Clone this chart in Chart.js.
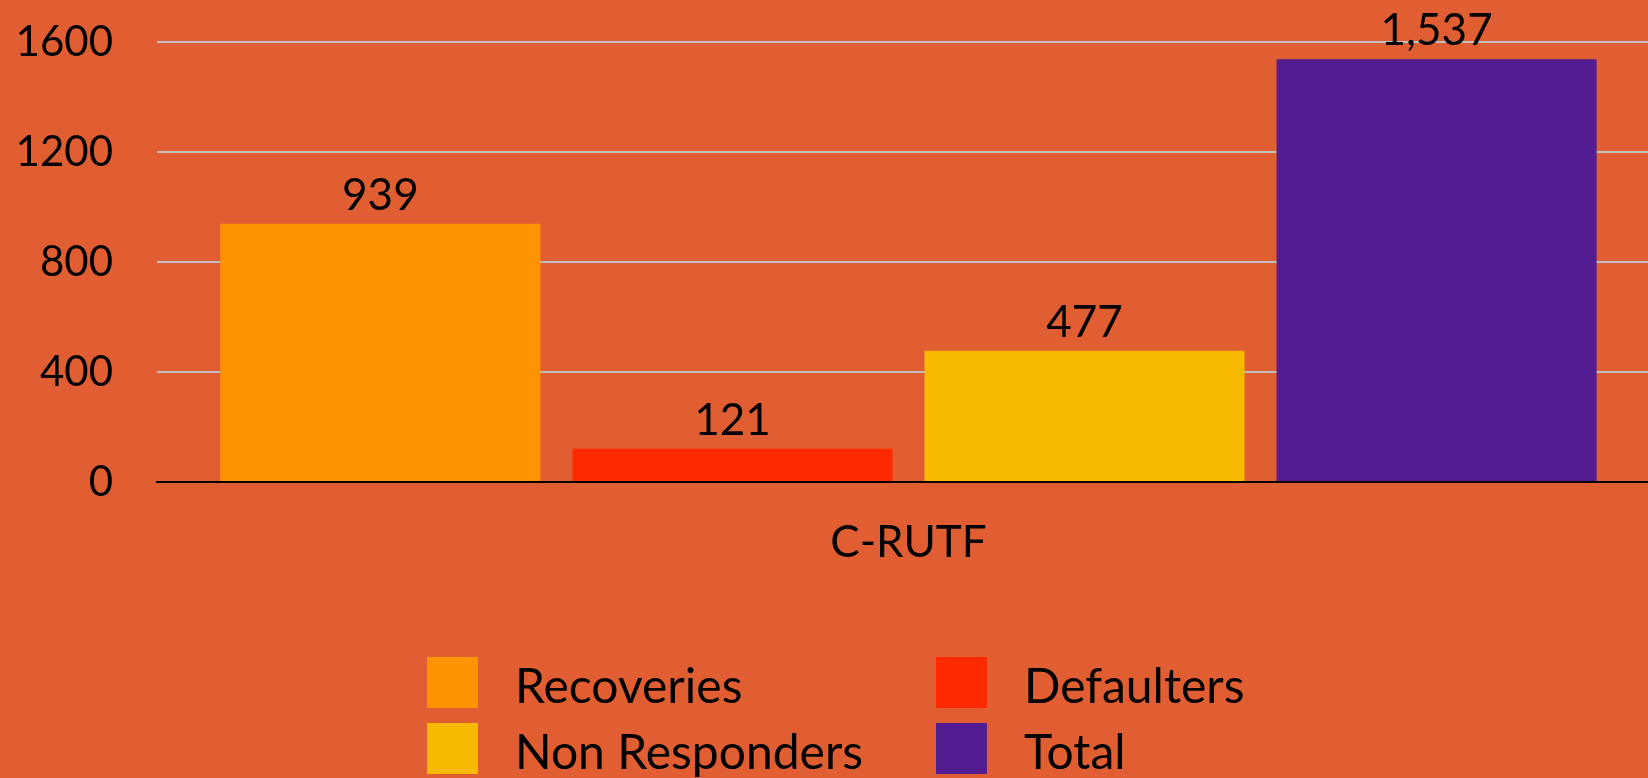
<!DOCTYPE html>
<html>
<head>
<meta charset="utf-8">
<script src="https://cdn.jsdelivr.net/npm/chart.js@4.4.0/dist/chart.umd.min.js"></script>
<style>
    html, body { margin: 0; padding: 0; background: #E05E32; overflow: hidden; }
    #wrap { position: relative; width: 1660px; height: 778px; }
</style>
</head>
<body>
<div id="wrap"><canvas id="outcomeChart"></canvas></div>
<script>
"use strict";

/** CHART DATA */

const CATEGORIES = ['C-RUTF'];
const SERIES_LABELS = ['Recoveries', 'Defaulters', 'Non Responders', 'Total'];
const RECOVERIES = [939];
const DEFAULTERS = [121];
const NON_RESPONDERS = [477];
const TOTAL = [1537];
const Y_TICKS = [0, 400, 800, 1200, 1600];

const COLORS = ['#FF9300', '#FF2A00', '#F7BA00', '#531C91'];
const FONT_FAMILY = 'Lato, "Open Sans", sans-serif';

// Value labels above each bar
const barValueLabels = {
    id: 'barValueLabels',
    afterDatasetsDraw(chart) {
        const ctx = chart.ctx;
        ctx.save();
        ctx.fillStyle = '#000';
        ctx.font = `44px ${ FONT_FAMILY }`;
        ctx.textAlign = 'center';
        ctx.textBaseline = 'alphabetic';
        chart.data.datasets.forEach((ds, i) => {
            chart.getDatasetMeta(i).data.forEach((bar, j) => {
                ctx.fillText(ds.data[j].toLocaleString('en-US'), bar.x, bar.y - 14);
            });
        });
        ctx.restore();
    }
};

// Two column legend below the chart
const gridLegend = {
    id: 'gridLegend',
    afterDraw(chart, args, opts) {
        const ctx = chart.ctx;
        ctx.save();
        ctx.font = `48px ${ FONT_FAMILY }`;
        ctx.textBaseline = 'alphabetic';
        ctx.textAlign = 'left';
        chart.data.datasets.forEach((ds, i) => {
            const col = i % 2;
            const row = Math.floor(i / 2);
            const x = opts.cols[col];
            const y = opts.rows[row];
            ctx.fillStyle = ds.backgroundColor;
            ctx.fillRect(x, y, opts.box, opts.box);
            ctx.fillStyle = '#000';
            ctx.fillText(ds.label, x + opts.textOffset, y + 46);
        });
        ctx.restore();
    }
};

const seriesValues = [RECOVERIES, DEFAULTERS, NON_RESPONDERS, TOTAL];

const outcomeChart = new Chart(document.getElementById('outcomeChart').getContext('2d'), {
    type: 'bar',
    data: {
        labels: CATEGORIES,
        datasets: SERIES_LABELS.map((label, i) => ({
            label: label,
            data: seriesValues[i],
            backgroundColor: COLORS[i],
            borderWidth: 0,
            categoryPercentage: 0.937,
            barPercentage: 0.909
        }))
    },
    options: {
        responsive: true,
        maintainAspectRatio: false,
        animation: false,
        layout: {
            padding: { top: 42, left: 0, right: 0, bottom: 216 }
        },
        plugins: {
            legend: { display: false },
            tooltip: { enabled: false },
            gridLegend: {
                cols: [427, 936],
                rows: [657, 723],
                box: 51,
                textOffset: 88
            }
        },
        scales: {
            x: {
                grid: { display: false },
                border: { display: true, color: '#000', width: 2 },
                ticks: {
                    color: '#000',
                    padding: 26,
                    font: { family: FONT_FAMILY, size: 44 }
                },
                afterFit: scale => { scale.height = 80; }
            },
            y: {
                min: 0,
                max: 1600,
                afterBuildTicks: scale => { scale.ticks = Y_TICKS.map(v => ({ value: v })); },
                grid: {
                    drawTicks: true,
                    tickLength: 44,
                    tickColor: 'rgba(0,0,0,0)',
                    lineWidth: 2,
                    color: ctx => ctx.tick && ctx.tick.value === 0 ? '#000' : '#BFBFBF'
                },
                border: { display: false },
                ticks: {
                    color: '#000',
                    padding: 0,
                    font: { family: FONT_FAMILY, size: 42 },
                    callback: value => String(value)
                },
                afterFit: scale => { scale.width = 157; }
            }
        }
    },
    plugins: [barValueLabels, gridLegend]
});
</script>
</body>
</html>
